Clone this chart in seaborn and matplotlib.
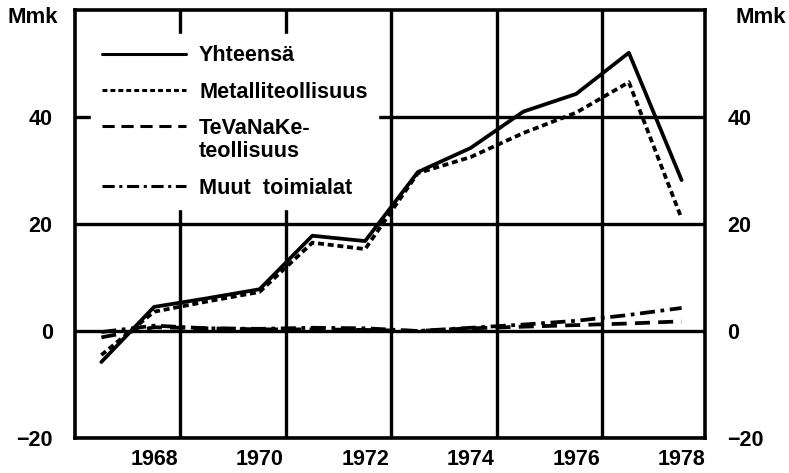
import numpy as np
import pandas as pd
import matplotlib
matplotlib.use("Agg")
import matplotlib.pyplot as plt
import seaborn as sns

years = [1967, 1968, 1969, 1970, 1971, 1972, 1973, 1974, 1975, 1976, 1977, 1978]
yhteensa = [-5.8, 4.5, 6.1, 7.8, 17.8, 16.8, 29.7, 34.2, 41.0, 44.3, 52.0, 28.2]
metalli = [-4.5, 3.6, 5.5, 7.3, 16.5, 15.3, 29.5, 32.5, 37.0, 40.8, 46.5, 21.0]
tevanake = [-1.2, 0.7, 0.5, 0.3, 0.3, 0.2, 0.0, 0.5, 0.8, 1.1, 1.4, 1.8]
muut = [-0.2, 1.0, 0.5, 0.4, 0.6, 0.5, 0.0, 0.6, 1.2, 1.9, 3.0, 4.3]

labels = ["Yhteensä", "Metalliteollisuus", "TeVaNaKe-\nteollisuus", "Muut  toimialat"]
styles = ["-", (0, (1.6, 1.0)), (0, (4.0, 2.2)), (0, (4.0, 1.5, 1.0, 1.5))]
year_ticks = [1968, 1970, 1972, 1974, 1976, 1978]
y_ticks = [-20, 0, 20, 40]

sns.set_style("white")
plt.rcParams["font.family"] = ["Liberation Sans", "DejaVu Sans"]
plt.rcParams["font.weight"] = "bold"
for k in ["text.color", "axes.labelcolor", "xtick.color", "ytick.color"]:
    plt.rcParams[k] = "black"
fs = 15.5

fig = plt.figure(figsize=(7.89, 4.73), dpi=100)
ax = fig.add_axes([0.095, 0.074, 0.799, 0.905])

series = [yhteensa, metalli, tevanake, muut]
for vals, lab, ls in zip(series, labels, styles):
    sns.lineplot(x=years, y=vals, color="black", lw=2.7, linestyle=ls,
                 label=lab, ax=ax, zorder=3)

ax.set_xlim(1966.5, 1978.45)
ax.set_ylim(-20, 60)
ax.set_xticks(year_ticks)
ax.set_xticks([1968.5, 1970.5, 1972.5, 1974.5, 1976.5], minor=True)
ax.set_yticks(y_ticks)
ax.grid(axis="x", which="minor", color="black", lw=2.4)
ax.grid(axis="y", which="major", color="black", lw=2.4)
ax.grid(axis="x", which="major", visible=False)
for s in ax.spines.values():
    s.set_visible(True)
    s.set_color("black")
    s.set_linewidth(2.6)

ax.tick_params(axis="both", which="both", length=0)
ax.tick_params(axis="y", labelsize=fs, pad=16, labelright=True)
ax.tick_params(axis="x", labelsize=fs, pad=8)
for t in ax.get_xticklabels() + ax.get_yticklabels():
    t.set_fontweight("bold")
ax.set_xlabel("")
ax.set_ylabel("")

lfs = 15.6
leg = ax.legend(loc="upper left", bbox_to_anchor=(0.025, 0.943), fontsize=lfs,
                frameon=True, facecolor="white", edgecolor="white", framealpha=1,
                fancybox=False, handlelength=3.9, handletextpad=0.6,
                labelspacing=0.72, borderpad=0.5, borderaxespad=0)
leg.set_zorder(5)
for t in leg.get_texts():
    t.set_fontweight("bold")
    t.set_linespacing(1.1)
for h in leg.get_lines():
    h.set_linewidth(2.2)
# handle of the two-line entry sits on its first line
h2 = leg.get_lines()[2]
h2.set_ydata(np.asarray(h2.get_ydata()) + 0.65 * lfs)

fig.text(0.01, 0.962, "Mmk", fontsize=16, fontweight="bold", va="center", ha="left")
fig.text(0.932, 0.962, "Mmk", fontsize=16, fontweight="bold", va="center", ha="left")

fig.savefig("out.png", dpi=100, facecolor="white")
